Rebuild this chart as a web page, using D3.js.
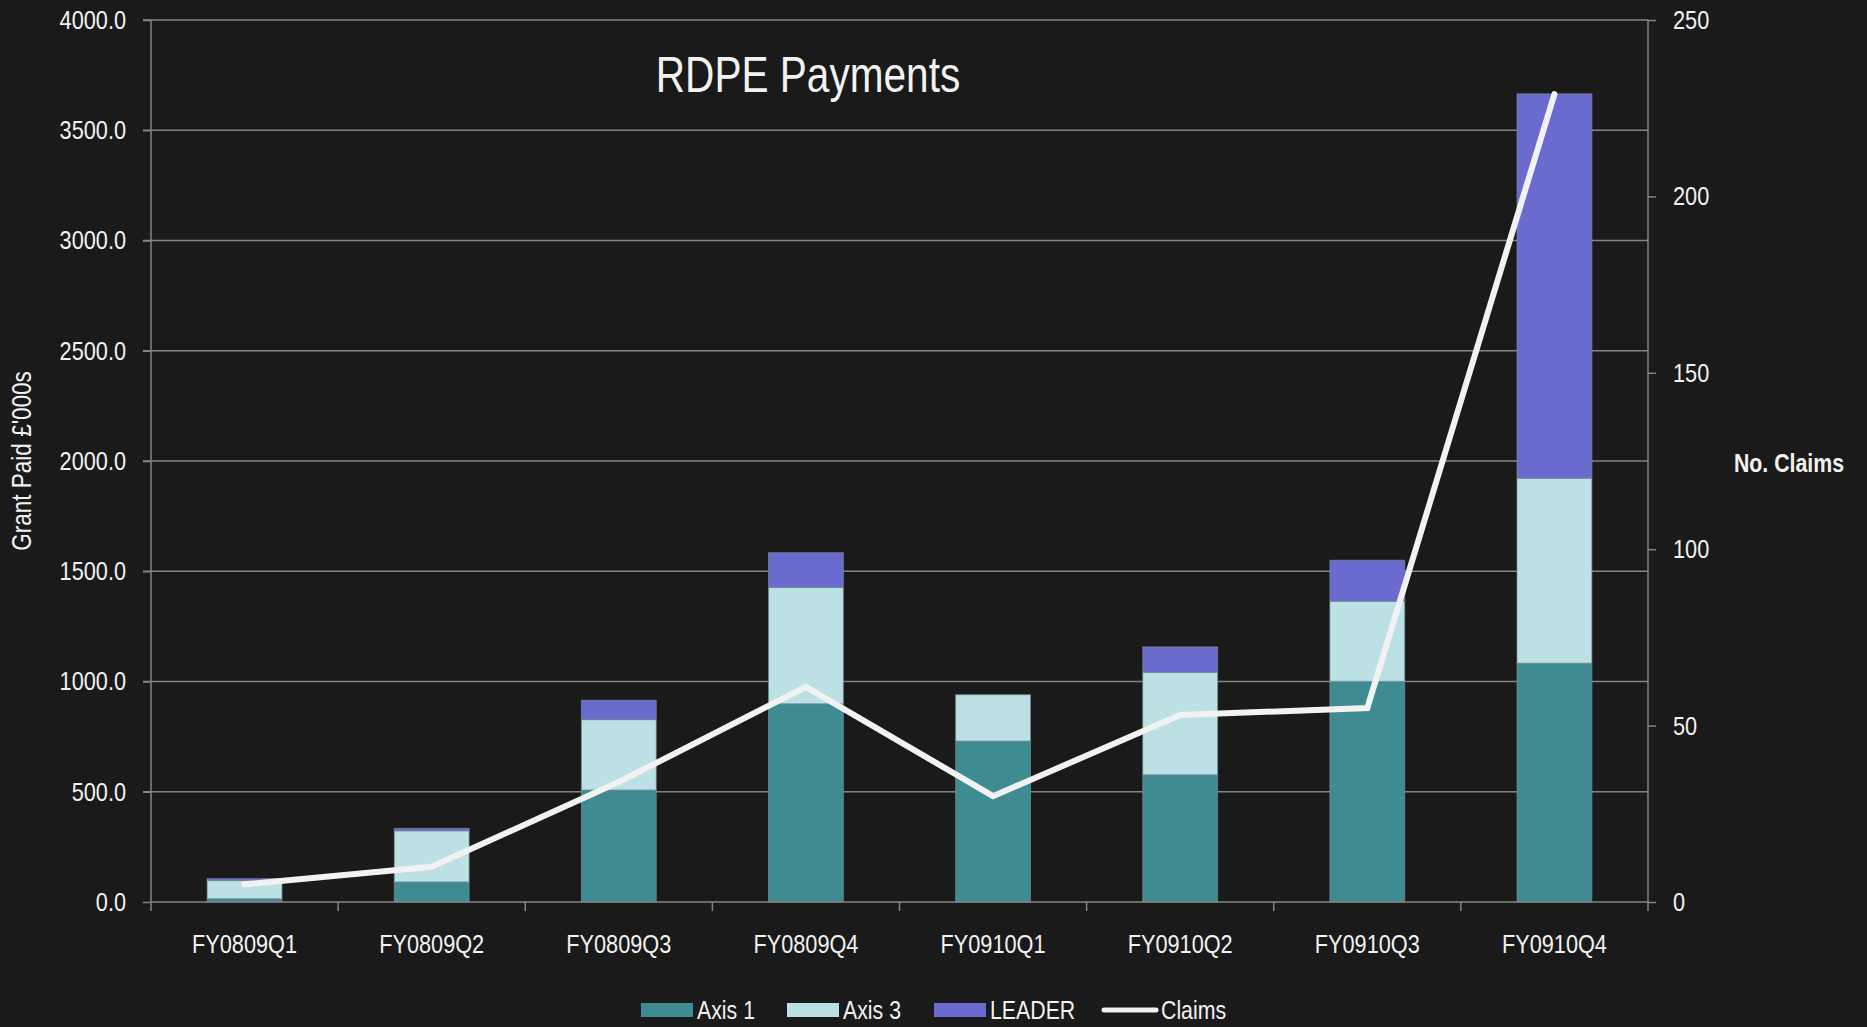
<!DOCTYPE html>
<html>
<head>
<meta charset="utf-8">
<script src="https://cdn.jsdelivr.net/npm/d3@7"></script>
<style>
  html, body { margin: 0; padding: 0; background: #1a1a1a; }
  svg { display: block; }
  text { font-family: "Liberation Sans Narrow", "Arial Narrow", "Liberation Sans", sans-serif; fill: #f2f2f2; }
</style>
</head>
<body>
<svg id="chart" width="1867" height="1027"></svg>
<script>
const categories = ["FY0809Q1","FY0809Q2","FY0809Q3","FY0809Q4","FY0910Q1","FY0910Q2","FY0910Q3","FY0910Q4"];
const axis1  = [15, 91, 508, 899, 730, 577, 1001, 1083];
const axis3  = [82, 232, 319, 528, 210, 465, 363, 839];
const leader = [9, 11, 88, 157, 0, 115, 186, 1743];
const claims = [5, 10, 34, 61, 30, 53, 55, 229];
const leftTicks  = [0, 500, 1000, 1500, 2000, 2500, 3000, 3500, 4000];
const rightTicks = [0, 50, 100, 150, 200, 250];
const seriesNames = ["Axis 1", "Axis 3", "LEADER"];
const seriesColors = ["#3e8c92", "#bce1e4", "#6b6bcf"];

const svg = d3.select("#chart");
const W = 1867, H = 1027;
svg.append("rect").attr("width", W).attr("height", H).attr("fill", "#1a1a1a");

// condense text horizontally (narrow font look)
const SX = 0.82;
function narrow(sel) {
  sel.each(function () {
    const el = d3.select(this);
    const tx = +el.attr("x") || 0, ty = +el.attr("y") || 0;
    const prev = el.attr("transform") || "";
    el.attr("transform", `${prev} translate(${tx},${ty}) scale(${SX},1) translate(${-tx},${-ty})`);
  });
}

const m = { left: 151, right: 1648, top: 20, bottom: 902 };
const x = d3.scaleBand().domain(categories).range([m.left, m.right]).paddingInner(0).paddingOuter(0);
const yL = d3.scaleLinear().domain([0, 4000]).range([m.bottom, m.top]);
const yR = d3.scaleLinear().domain([0, 250]).range([m.bottom, m.top]);
const gridColor = "#858585";

// gridlines
svg.append("g").selectAll("line").data(leftTicks.filter(d => d > 0)).join("line")
  .attr("x1", m.left - 8).attr("x2", m.right)
  .attr("y1", d => yL(d)).attr("y2", d => yL(d))
  .attr("stroke", gridColor).attr("stroke-width", 1.5);

// left axis
const gL = svg.append("g").attr("transform", `translate(${m.left},0)`)
  .call(d3.axisLeft(yL).tickValues(leftTicks).tickFormat(d3.format(".1f")).tickSize(8).tickPadding(17));
gL.select(".domain").attr("stroke", gridColor).attr("stroke-width", 1.5).attr("d", `M0,${m.top}V${m.bottom}`);
gL.selectAll(".tick line").attr("stroke", gridColor).attr("stroke-width", 1.5);
gL.selectAll(".tick text").attr("font-size", 26.5).attr("fill", "#f2f2f2")
  .style("font-family", '"Liberation Sans Narrow", "Arial Narrow", "Liberation Sans", sans-serif')
  .call(narrow);

// right axis
const gR = svg.append("g").attr("transform", `translate(${m.right},0)`)
  .call(d3.axisRight(yR).tickValues(rightTicks).tickSize(8).tickPadding(17));
gR.select(".domain").attr("stroke", gridColor).attr("stroke-width", 1.5).attr("d", `M0,${m.top}V${m.bottom}`);
gR.selectAll(".tick line").attr("stroke", gridColor).attr("stroke-width", 1.5);
gR.selectAll(".tick text").attr("font-size", 26.5).attr("fill", "#f2f2f2")
  .style("font-family", '"Liberation Sans Narrow", "Arial Narrow", "Liberation Sans", sans-serif')
  .call(narrow);

// stacked bars
const rows = categories.map((c, i) => ({ cat: c, "Axis 1": axis1[i], "Axis 3": axis3[i], "LEADER": leader[i] }));
const stacked = d3.stack().keys(seriesNames)(rows);
const bw = x.bandwidth() * 0.4;
svg.append("g").selectAll("g").data(stacked).join("g")
  .attr("fill", (d, i) => seriesColors[i])
  .selectAll("rect").data(d => d.filter(p => p[1] - p[0] > 0)).join("rect")
  .attr("x", d => x(d.data.cat) + (x.bandwidth() - bw) / 2)
  .attr("width", bw)
  .attr("y", d => yL(d[1]))
  .attr("height", d => yL(d[0]) - yL(d[1]))
  .attr("stroke", "rgba(120,140,150,0.7)").attr("stroke-width", 1);

// bottom axis
const gB = svg.append("g").attr("transform", `translate(0,${m.bottom})`);
gB.append("line").attr("x1", m.left).attr("x2", m.right).attr("y1", 0).attr("y2", 0)
  .attr("stroke", gridColor).attr("stroke-width", 1.5);
const bounds = categories.map(c => x(c)).concat([m.right]);
gB.selectAll("line.tk").data(bounds).join("line").attr("class", "tk")
  .attr("x1", d => d).attr("x2", d => d).attr("y1", 0).attr("y2", 9)
  .attr("stroke", gridColor).attr("stroke-width", 1.5);
gB.selectAll("text").data(categories).join("text")
  .attr("x", d => x(d) + x.bandwidth() / 2).attr("y", 51)
  .attr("text-anchor", "middle").attr("font-size", 26.5).text(d => d)
  .call(narrow);

// claims line
const line = d3.line().x((d, i) => x(categories[i]) + x.bandwidth() / 2).y(d => yR(d));
svg.append("path").datum(claims).attr("d", line)
  .attr("fill", "none").attr("stroke", "#f2f2f2").attr("stroke-width", 6)
  .attr("stroke-linecap", "round").attr("stroke-linejoin", "miter");

// title
svg.append("text").attr("x", 808).attr("y", 92).attr("text-anchor", "middle")
  .attr("font-size", 49.5).text("RDPE Payments").call(narrow);

// axis titles
svg.append("text").attr("transform", "translate(31,461) rotate(-90)")
  .attr("text-anchor", "middle").attr("font-size", 27.5).text("Grant Paid £'000s").call(narrow);
svg.append("text").attr("x", 1789).attr("y", 472).attr("text-anchor", "middle")
  .attr("font-size", 26).attr("font-weight", "bold").text("No. Claims").call(narrow);

// legend
const legend = svg.append("g");
const lx = [641, 787, 934];
seriesNames.forEach((s, i) => {
  legend.append("rect").attr("x", lx[i]).attr("y", 1003).attr("width", 52).attr("height", 14).attr("fill", seriesColors[i]);
  legend.append("text").attr("x", lx[i] + 56).attr("y", 1019).attr("font-size", 26).text(s).call(narrow);
});
legend.append("line").attr("x1", 1104).attr("x2", 1156).attr("y1", 1010).attr("y2", 1010)
  .attr("stroke", "#f2f2f2").attr("stroke-width", 5).attr("stroke-linecap", "round");
legend.append("text").attr("x", 1161).attr("y", 1019).attr("font-size", 26).text("Claims").call(narrow);
</script>
</body>
</html>
